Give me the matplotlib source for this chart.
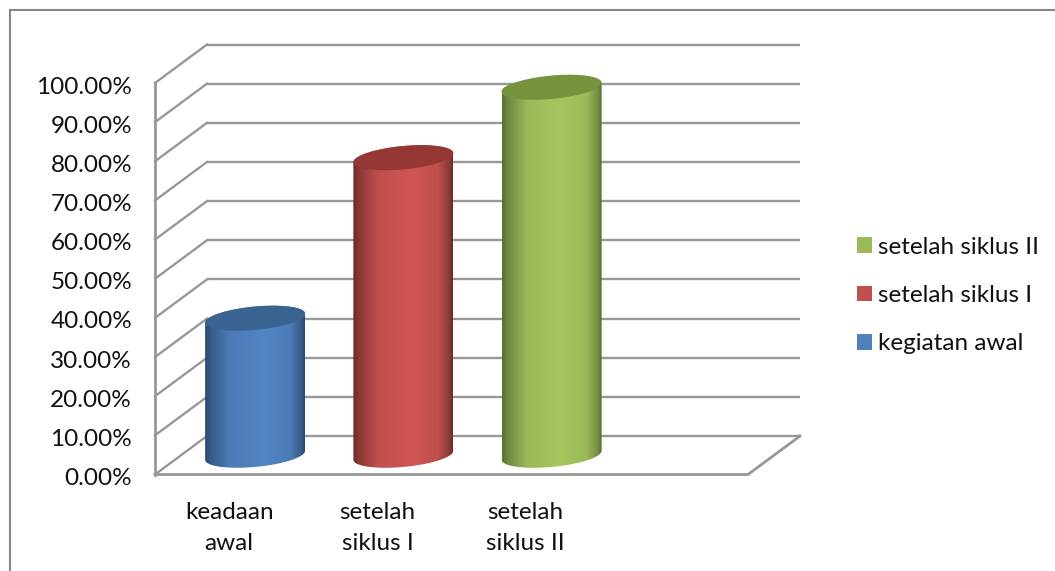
import numpy as np
import matplotlib
matplotlib.use('Agg')
import matplotlib.pyplot as plt
from matplotlib.patches import Patch, PathPatch
from matplotlib.lines import Line2D
from matplotlib.path import Path
from matplotlib.transforms import Affine2D

categories = ['keadaan\nawal', 'setelah\nsiklus I', 'setelah\nsiklus II']
series_names = ['kegiatan awal', 'setelah siklus I', 'setelah siklus II']
values = [35, 76, 94]
y_ticks = [0, 10, 20, 30, 40, 50, 60, 70, 80, 90, 100]
y_labels = ['0.00%', '10.00%', '20.00%', '30.00%', '40.00%', '50.00%',
            '60.00%', '70.00%', '80.00%', '90.00%', '100.00%']

# mid colour, edge colour, top cap colour
bar_colors = [('#5285c4', '#2c4a70', '#3b6391'),
              ('#d05653', '#6b2b29', '#953735'),
              ('#a6c75f', '#5a6e33', '#76923c')]
legend_colors = ['#4f81bd', '#c0504d', '#9bbb59']

W, H = 1055, 571
GRID = '#989898'
DEPTH_X, DEPTH_Y = 52, 38.5

plt.rcParams['font.family'] = ['Lato', 'DejaVu Sans']
fig = plt.figure(figsize=(W / 100, H / 100), dpi=100)
ax = fig.add_axes([155 / W, 1 - 474.5 / H, 593 / W, 391.5 / H])
ax.patch.set_visible(False)
for s in ax.spines.values():
    s.set_visible(False)

# outer frame, only left and top fall inside the picture
fig.add_artist(Line2D([9.5 / W, 9.5 / W, 1], [0, 1 - 9.5 / H, 1 - 9.5 / H], transform=fig.transFigure,
                      color='#868686', lw=1.5, solid_joinstyle='miter'))

px_x = 593 / 4      # pixels per category
px_y = 391.5 / 100  # pixels per value unit
back = ax.transData + Affine2D().translate(DEPTH_X, DEPTH_Y)
mid = ax.transData + Affine2D().translate(DEPTH_X / 2, DEPTH_Y / 2)

# back wall, side wall and floor
for v in y_ticks:
    ax.plot([0, 4], [v, v], color=GRID, lw=1.7, transform=back, solid_capstyle='butt', clip_on=False, zorder=1)
    ax.plot([0, DEPTH_X / px_x], [v, v + DEPTH_Y / px_y], color=GRID, lw=1.7, clip_on=False, zorder=1)
ax.plot([0, 0], [0, 100], color=GRID, lw=2, clip_on=False, zorder=1)
ax.plot([0, 4, 4 + DEPTH_X / px_x], [0, 0, DEPTH_Y / px_y], color=GRID, lw=2, clip_on=False, zorder=1)


def cylinder(center, value, colors, zorder=3):
    half = 50 / px_x
    shear = 4.5 / px_y
    minor = 11.7 / px_y
    t = np.linspace(0, 2 * np.pi, 121)
    ex = half * np.cos(t)
    ey = shear * np.cos(t) + minor * np.sin(t)

    # lower half of the ellipse goes from left end to right end
    low = t[60:]
    up = t[:61]
    xs = np.concatenate([center + half * np.cos(low), center + half * np.cos(up)])
    ys = np.concatenate([shear * np.cos(low) + minor * np.sin(low),
                         value + shear * np.cos(up) + minor * np.sin(up)])
    body = Path(np.column_stack([xs, ys]))

    c_mid = np.array(matplotlib.colors.to_rgb(colors[0]))
    c_edge = np.array(matplotlib.colors.to_rgb(colors[1]))
    pos = np.linspace(0, 1, 200)
    k = np.interp(pos, [0, 0.06, 0.25, 0.6, 0.85, 0.96, 1], [0, 0.3, 0.84, 1, 0.84, 0.35, 0])
    grad = (c_edge[None, :] + (c_mid - c_edge)[None, :] * k[:, None])[None, :, :]
    im = ax.imshow(grad, extent=[center - half, center + half, -10, value + 10], aspect='auto',
                   transform=mid, zorder=zorder, interpolation='bilinear')
    im.set_clip_path(PathPatch(body, transform=mid))

    ax.add_patch(PathPatch(Path(np.column_stack([center + ex, value + ey])), fc=colors[2], ec='none',
                           transform=mid, zorder=zorder + 1, clip_on=False))


for i, v in enumerate(values):
    cylinder(i + 0.5, v, bar_colors[i])

ax.set_xlim(0, 4)
ax.set_ylim(0, 100)
ax.set_xticks([0.5, 1.5, 2.5])
ax.set_xticklabels(categories, fontsize=17.5, color='#111111', linespacing=1.6)
ax.set_yticks(y_ticks)
ax.set_yticklabels(y_labels, fontsize=17.5, color='#111111')
ax.tick_params(length=0)
ax.tick_params(axis='y', pad=16.5)
ax.tick_params(axis='x', pad=19.5)
for lab in ax.get_yticklabels():
    lab.set_transform(lab.get_transform() + Affine2D().translate(0, -2))

handles = [Patch(fc=c, ec='none') for c in legend_colors]
ax.legend(handles[::-1], series_names[::-1], loc='center left', frameon=False, fontsize=17.5,
          bbox_to_anchor=(835 / W, 1 - 295.5 / H), bbox_transform=fig.transFigure,
          handlelength=0.62, handleheight=0.62, handletextpad=0.25, labelspacing=1.13, labelcolor='#111111')

fig.savefig('out.png', dpi=100)
